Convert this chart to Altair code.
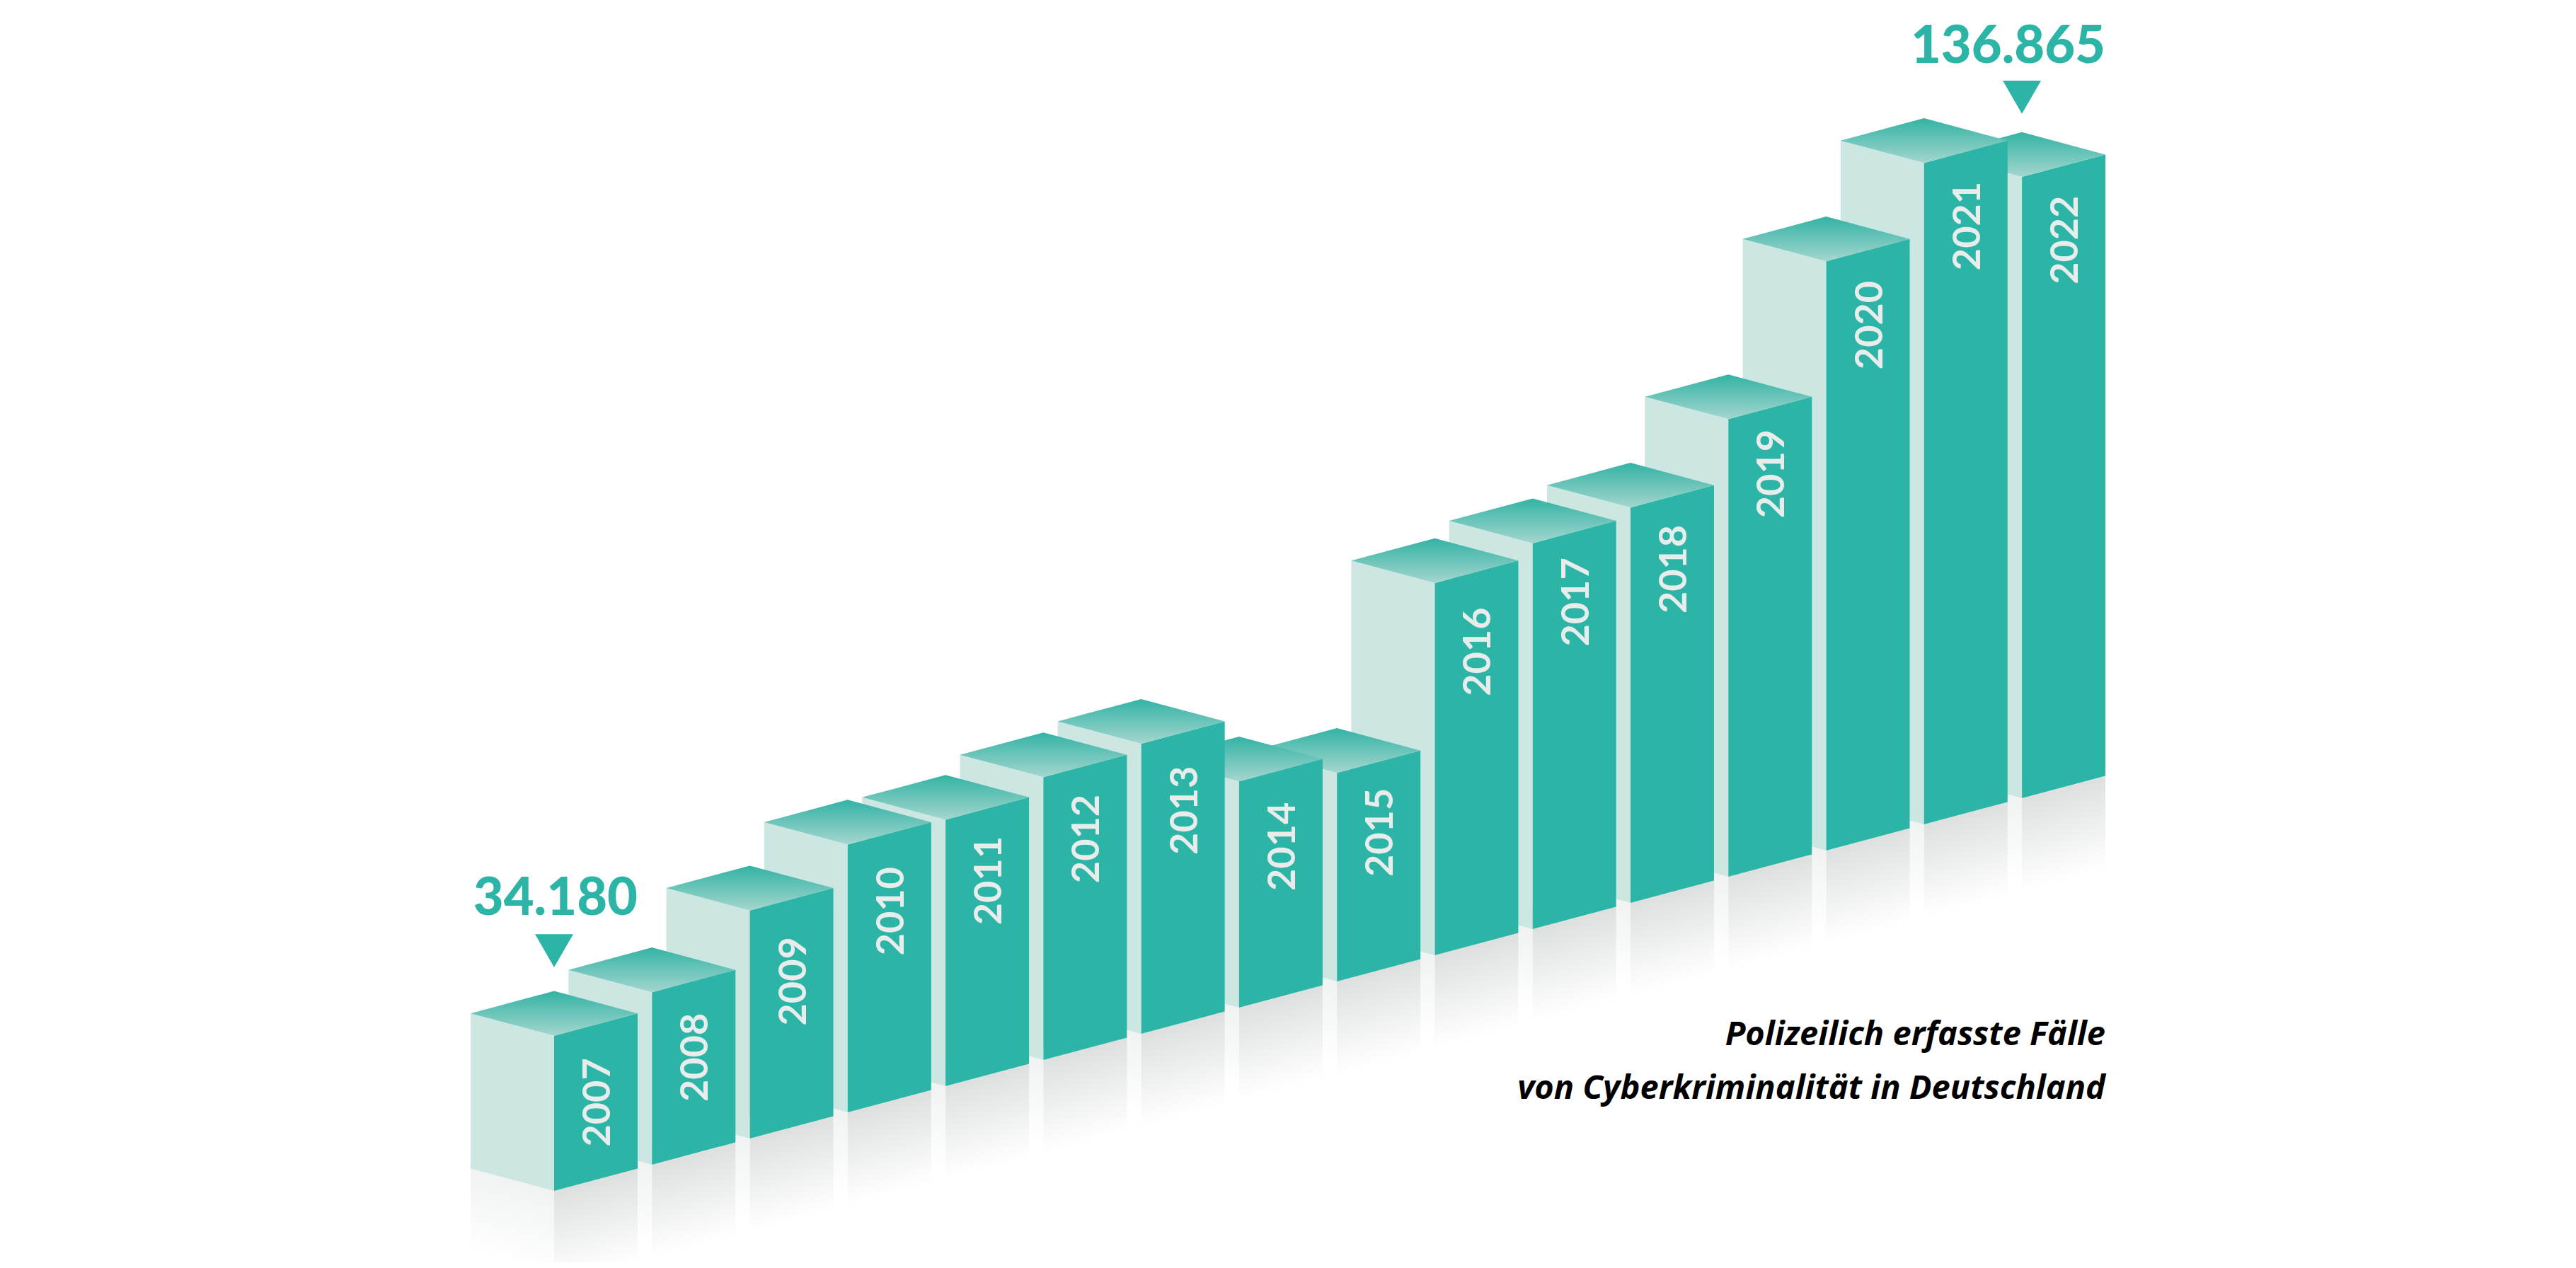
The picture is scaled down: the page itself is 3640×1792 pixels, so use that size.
import altair as alt
import pandas as pd

# ---- data ----
years = [2007, 2008, 2009, 2010, 2011, 2012, 2013, 2014, 2015, 2016, 2017, 2018, 2019, 2020, 2021, 2022]
cases = [34180, 38000, 50250, 59000, 58700, 62300, 63900, 49850, 45950, 82000, 85000, 87100, 100800, 129800, 145700, 136865]
first_label = "34.180"
last_label = "136.865"
caption = ["Polizeilich erfasste Fälle", "von Cyberkriminalität in Deutschland"]

# ---- isometric projection ----
TEAL = "#2cb4a7"
SIDE = "#cce6e2"
LABEL = "#e8ecea"
X0, DX = 783.0, 138.27      # centre edge of first bar, step per year
Y0, DY = 1683.0, 37.0       # foot of first bar, climb per year
HALF_W, HALF_H = 118.0, 31.6
K = 878.0 / 136865.0        # pixels of height per case
R_FRONT, R_SIDE = 132.0, 115.0
LABEL_NUDGE = [2, 0, 8, 2, -6, -5, 2, 0, -8, 5, -9, -5, -15, -2, -3, -3]

x_scale = alt.Scale(domain=[8, 3632], range=[0, 3624], nice=False, zero=False)
y_scale = alt.Scale(domain=[1784, 8], nice=False, zero=False)
X = alt.X("x:Q", scale=x_scale, axis=None)
Y = alt.Y("y:Q", scale=y_scale, axis=None)
Y2 = alt.Y2("y2:Q")


def slanted_gradient(color, height, rising_right):
    s = HALF_H / (HALF_H + height)
    f = (1 - s) / (1 + s * s)
    vx, vy = f * s, f
    if not rising_right:
        vx = -vx
    return alt.LinearGradient(
        gradient="linear",
        stops=[alt.GradientStop(color=color, offset=0),
               alt.GradientStop(color="#eef0ef" if color == "#dedfdf" else "#f7f8f8", offset=0.5),
               alt.GradientStop(color="#ffffff", offset=1)],
        x1=0.5 - vx / 2, y1=0.5 - vy / 2, x2=0.5 + vx / 2, y2=0.5 + vy / 2,
    )


top_gradient = alt.LinearGradient(
    gradient="linear",
    stops=[alt.GradientStop(color="#33b3a5", offset=0), alt.GradientStop(color="#a4d6ce", offset=1)],
    x1=0, y1=0, x2=0, y2=1,
)


def face(points, fill):
    df = pd.DataFrame(points, columns=["x", "y", "y2"])
    return alt.Chart(df).mark_area(color=fill, interpolate="linear", strokeWidth=0).encode(x=X, y=Y, y2=Y2)


layers = []
for i in reversed(range(len(years))):
    cx = X0 + DX * i
    foot = Y0 - DY * i
    top = foot - cases[i] * K
    left, right = cx - HALF_W, cx + HALF_W
    # reflections on the floor
    layers.append(face([(left, foot - HALF_H, foot - HALF_H + R_SIDE), (cx, foot, foot + R_SIDE)],
                       slanted_gradient("#f1f3f2", R_SIDE, False)))
    layers.append(face([(cx, foot, foot + R_FRONT), (right, foot - HALF_H, foot - HALF_H + R_FRONT)],
                       slanted_gradient("#dedfdf", R_FRONT, True)))
    # the three faces of the block
    layers.append(face([(left, top - HALF_H, foot - HALF_H), (cx, top, foot)], SIDE))
    layers.append(face([(cx, top, foot), (right, top - HALF_H, foot - HALF_H)], TEAL))
    layers.append(face([(left, top - HALF_H, top - HALF_H), (cx, top - 2 * HALF_H, top), (right, top - HALF_H, top - HALF_H)],
                       top_gradient))
    # year on the front face
    lab = pd.DataFrame({"x": [cx + HALF_W / 2 + 4], "y": [top - HALF_H / 2 + 108 + LABEL_NUDGE[i]], "t": [str(years[i])]})
    layers.append(alt.Chart(lab).mark_text(
        font="Lato", fontSize=54, fontWeight=700, angle=270, align="center", baseline="middle", color=LABEL
    ).encode(x=X, y=Y, text="t:N"))

# call-outs
cx_first, cx_last = X0, X0 + DX * (len(years) - 1)
tops = [Y0 - cases[0] * K, Y0 - DY * 15 - cases[-1] * K]
arrows = pd.DataFrame({"x": [cx_first, cx_last], "y": [tops[0] - 2 * HALF_H - 57, tops[1] - 2 * HALF_H - 49.5]})
layers.append(alt.Chart(arrows).mark_point(shape="triangle-down", size=2916, filled=True, color=TEAL, opacity=1, strokeWidth=0)
              .encode(x=X, y=Y))
big = pd.DataFrame({"x": [cx_first + HALF_W, cx_last + HALF_W], "y": [1293, 89], "t": [first_label, last_label]})
layers.append(alt.Chart(big).mark_text(font="Lato", fontSize=74, fontWeight=900, align="right", baseline="alphabetic", color=TEAL)
              .encode(x=X, y=Y, text="t:N"))
cap = pd.DataFrame({"x": [2975, 2975], "y": [1477, 1553], "t": caption})
layers.append(alt.Chart(cap).mark_text(font="Open Sans", fontSize=47, fontWeight=700, fontStyle="italic", align="right",
                                       baseline="alphabetic", color="#000000")
              .encode(x=X, y=Y, text="t:N"))

chart = alt.layer(*layers).properties(
    width=3624, height=1776, padding=0, background="#ffffff",
    autosize=alt.AutoSizeParams(type="none"),
).configure_view(stroke=None)

chart.save("out.html", embed_options={"renderer": "svg", "actions": False})
